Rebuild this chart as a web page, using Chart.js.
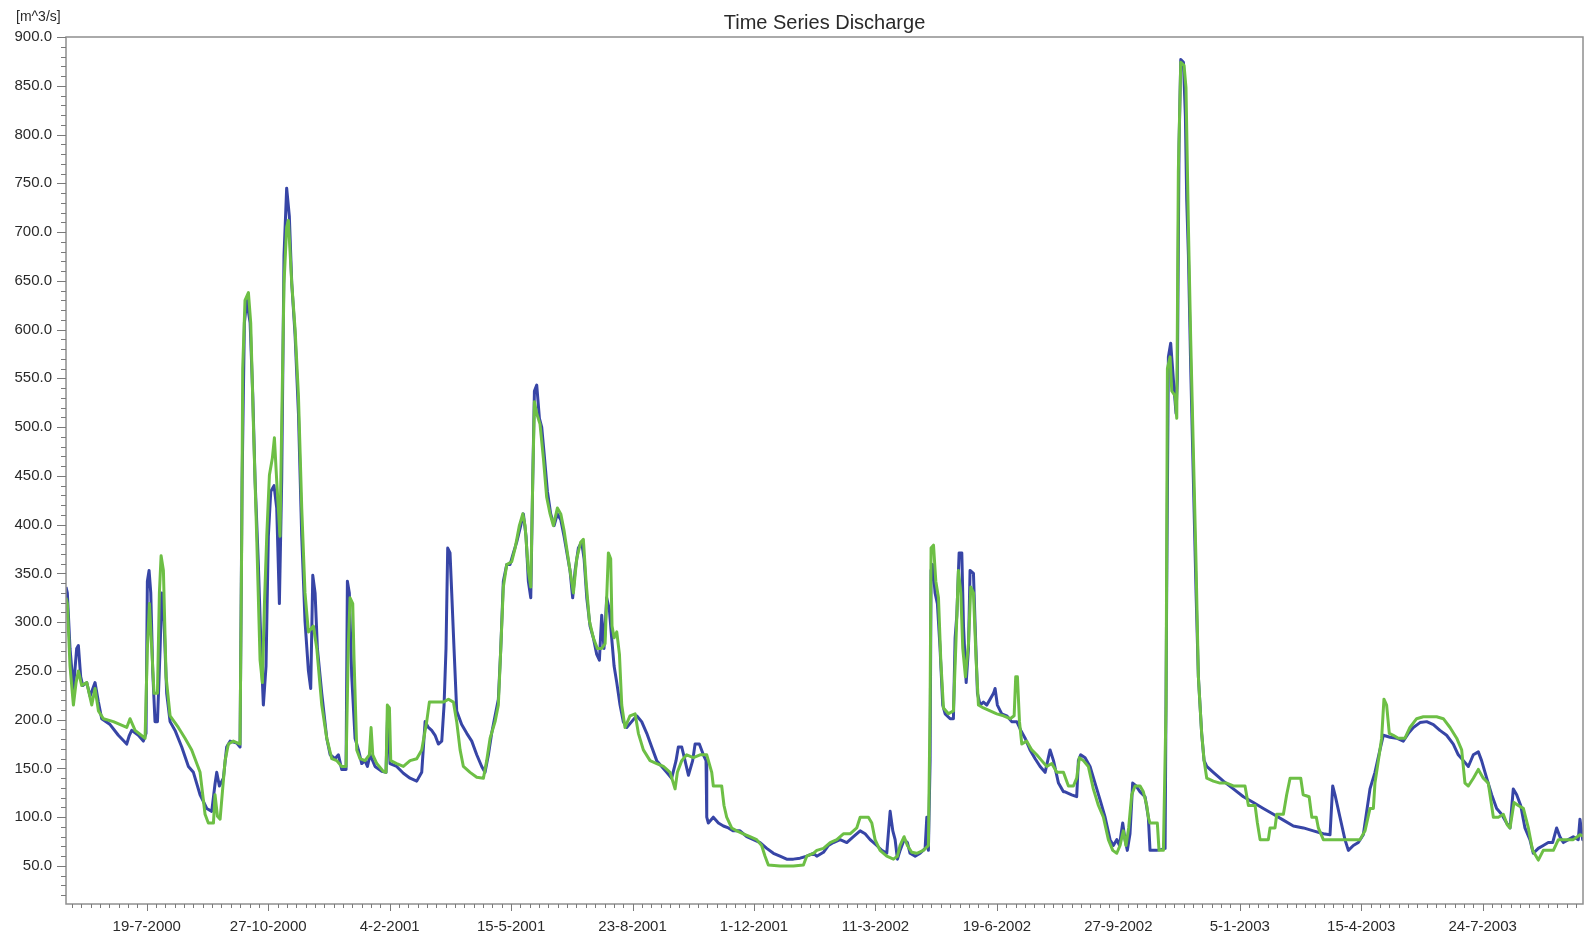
<!DOCTYPE html>
<html>
<head>
<meta charset="utf-8">
<title>Time Series Discharge</title>
<script src="https://cdn.jsdelivr.net/npm/chart.js@4.4.0/dist/chart.umd.min.js"></script>
<style>
  html, body { margin: 0; padding: 0; background: #fff; }
  #wrap { width: 1586px; height: 937px; position: relative; }
</style>
</head>
<body>
<div id="wrap"><canvas id="dischargeChart"></canvas></div>
<script>
// days counted from 13-5-2000
const startDate = Date.UTC(2000, 4, 13);
const chartTitle = 'Time Series Discharge';
const unitLabel = '[m^3/s]';

const tickDays = [67, 167, 267, 367, 467, 567, 667, 767, 867, 967, 1067, 1167];
const tickLabels = ['19-7-2000', '27-10-2000', '4-2-2001', '15-5-2001', '23-8-2001', '1-12-2001',
  '11-3-2002', '19-6-2002', '27-9-2002', '5-1-2003', '15-4-2003', '24-7-2003'];
const yTicks = [50, 100, 150, 200, 250, 300, 350, 400, 450, 500, 550, 600, 650, 700, 750, 800, 850, 900];

// blue series
const obsDay = [
  0.5,1.6,3.8,6.6,9.3,10.7,12.6,14.3,17.6,20.3,24.4,27.2,29.9,36.8,43.6,50.5,52.7,54.6,60.1,64.2,
  66.4,67.5,68.9,70.3,71.9,73.8,75.8,78.0,79.3,81.2,83.4,86.2,90.3,95.8,101.3,105.4,110.9,116.4,120.5,123.2,
  124.6,126.8,130.1,132.8,135.6,141.1,143.8,145.5,147.4,149.3,152.1,154.3,156.2,158.9,161.1,163.0,165.2,167.1,169.1,171.8,
  174.0,176.2,178.1,180.0,182.2,184.4,186.4,189.1,191.9,194.6,197.3,200.1,202.0,
  203.7,205.6,207.5,211.1,215.2,218.0,222.0,224.8,227.5,231.1,232.2,233.8,235.8,238.5,241.3,244.0,246.7,248.7,250.9,255.0,
  260.5,264.0,265.4,267.3,272.8,278.3,283.8,289.3,293.4,296.2,298.9,301.6,304.4,307.1,309.9,311.8,313.4,314.8,316.7,318.1,
  320.0,322.2,326.3,330.5,334.6,338.7,342.8,345.5,348.3,351.0,353.8,356.5,358.5,360.6,363.4,366.1,368.9,371.6,374.9,377.1,
  379.3,381.2,383.2,384.8,386.2,388.1,390.3,392.2,394.1,396.9,399.6,402.4,405.1,407.9,410.6,
  415.5,417.7,419.7,422.4,425.1,427.1,429.3,432.0,434.7,437.5,439.7,441.6,443.5,445.7,447.9,449.8,451.8,454.0,456.7,459.4,
  462.2,466.3,470.4,474.5,478.7,482.8,486.9,491.0,495.1,499.2,502.8,504.7,507.5,510.2,513.0,516.5,518.5,522.0,525.3,527.5,
  528.1,529.4,533.5,537.7,541.8,545.9,550.0,555.5,561.0,566.5,572.0,577.5,583.0,588.4,593.9,599.4,604.9,610.4,615.9,
  618.7,624.2,628.3,632.4,637.9,643.4,648.9,654.4,658.5,662.6,668.1,672.2,676.3,679.1,681.3,683.2,685.1,687.3,690.6,693.3,
  695.5,699.7,703.8,707.9,709.3,710.6,712.0,712.8,714.2,716.1,718.0,720.2,722.4,724.4,728.5,731.2,732.6,734.0,735.9,738.1,
  739.5,741.7,743.6,744.9,747.7,749.1,751.0,753.2,755.9,758.7,761.4,764.2,765.5,767.4,771.0,775.1,779.2,783.4,786.7,790.2,
  794.3,798.5,802.6,806.7,810.8,813.6,817.7,821.8,
  823.1,828.6,832.7,834.1,836.0,839.6,843.7,847.8,851.9,856.1,860.2,862.9,865.7,867.9,870.6,872.5,874.4,876.6,878.8,881.6,
  884.9,889.0,891.7,893.1,898.6,902.7,905.5,906.8,908.2,910.1,912.3,914.5,915.6,917.0,918.4,920.6,922.2,923.3,924.7,926.6,
  928.8,931.0,932.9,935.6,937.6,939.8,945.2,953.5,961.7,970.0,978.2,986.4,994.7,1002.9,1011.1,1019.4,1027.6,
  1035.8,1041.3,1043.5,1045.4,1049.5,1053.6,1056.4,1060.5,1064.6,1068.7,1071.5,1074.2,1078.3,1082.4,1085.2,1090.7,1096.2,1101.6,1105.8,1109.9,
  1115.4,1120.9,1126.4,1131.8,1137.3,1142.8,1146.9,1151.1,1155.2,1159.3,1163.4,1166.1,1170.3,1174.4,1178.5,1182.6,1186.7,1189.5,1192.2,1195.0,
  1198.3,1201.8,1205.9,1208.7,1212.8,1216.9,1221.0,1224.6,1227.9,1230.6,1233.4,1237.5,1241.6,1245.7,1247.1,1249.3,1251.2
];
const obsQ = [
  336,330,273,232,273,276,244,235,238,224,238,218,201,195,184,175,184,189,184,178,
  186,342,353,330,250,198,198,273,330,301,227,198,189,172,152,146,123,109,106,134,
  146,132,140,172,178,176,172,445,607,630,607,532,445,359,273,215,255,388,434,440,
  417,319,445,676,745,716,647,595,514,388,301,250,232,
  348,330,273,227,181,164,160,164,149,149,342,330,244,181,169,155,158,152,164,152,
  147,146,209,155,152,145,140,137,146,198,192,189,184,175,178,215,273,376,371,330,
  273,209,195,186,178,164,152,146,164,186,204,221,273,342,359,359,371,382,399,411,
  388,342,325,445,537,543,509,500,474,434,411,399,411,405,388,
  353,325,353,376,382,365,325,296,284,267,261,307,273,325,313,284,255,238,215,198,
  192,198,204,198,186,172,158,152,146,140,158,172,172,158,143,158,175,175,164,158,
  100,94,100,94,91,89,86,86,80,77,74,68,63,60,57,57,58,60,63,
  60,64,71,74,77,74,80,86,83,77,71,66,63,106,86,77,57,66,77,74,
  63,60,63,68,100,66,158,353,359,330,319,273,215,206,201,201,284,307,371,371,
  296,238,273,353,350,296,227,215,218,215,221,227,232,215,206,204,198,198,189,181,
  169,160,152,146,169,158,135,126,
  126,123,121,158,164,161,152,135,118,100,77,71,77,71,94,77,66,83,135,132,
  126,121,100,66,66,67,68,330,572,586,549,514,549,791,877,874,819,733,676,560,
  445,330,244,186,158,152,146,137,129,121,115,109,103,97,91,89,86,
  83,82,132,123,100,77,66,71,74,82,106,129,146,169,184,182,181,178,186,192,
  197,198,195,189,184,175,164,158,152,164,167,158,140,123,109,103,94,89,129,123,
  112,89,77,63,68,71,74,74,89,80,74,77,80,77,98,77,80
];

// green series
const simDay = [
  0.5,1.6,3.8,6.6,8.8,10.7,13.4,17.6,21.7,24.4,27.2,31.3,39.5,50.5,53.2,57.4,65.6,67.5,69.2,71.1,
  73.0,75.8,77.4,78.8,80.7,82.9,86.2,93.0,98.5,104.0,110.9,115.0,117.7,121.9,123.2,125.2,127.4,129.5,131.5,134.2,
  138.3,143.8,145.2,146.0,147.9,150.7,152.6,154.8,157.5,160.3,162.2,163.9,165.8,168.0,170.4,172.1,174.0,176.7,178.1,180.0,
  182.2,183.6,186.4,189.1,191.9,194.6,197.3,200.1,
  204.2,207.0,211.1,215.2,219.3,223.4,227.5,231.1,233.0,234.4,236.6,237.7,239.9,242.6,246.7,250.3,251.7,253.1,256.4,261.8,
  264.0,265.1,266.8,267.9,272.8,278.3,283.8,289.3,293.4,297.5,299.7,305.7,311.2,315.4,319.5,322.2,325.0,327.7,333.2,338.7,
  344.2,346.9,349.7,353.8,356.5,358.5,360.6,363.4,367.5,370.3,373.8,376.6,378.5,381.2,383.2,384.8,386.2,388.1,390.8,393.6,
  396.3,399.1,401.8,405.1,407.9,410.6,
  415.5,418.3,421.0,424.3,426.5,428.7,431.5,434.7,438.0,441.6,444.4,445.7,447.1,449.0,450.1,451.8,454.0,456.2,458.1,460.8,
  464.9,469.1,471.8,475.9,481.4,486.9,492.4,497.9,502.0,503.9,507.5,511.6,517.1,522.6,528.1,532.2,533.5,537.7,540.4,542.3,
  544.5,548.6,552.8,558.2,563.7,569.2,573.3,576.1,578.8,588.4,599.4,607.7,610.4,615.9,
  618.7,624.2,629.7,635.2,640.6,646.1,651.6,654.4,661.2,664.0,666.7,670.8,676.3,681.8,685.1,687.3,690.6,693.3,696.9,701.0,
  706.5,710.6,712.0,712.8,714.8,716.7,718.9,720.8,723.0,727.1,731.2,733.1,735.3,737.3,738.9,741.1,743.6,745.5,747.7,749.9,
  751.8,755.9,761.4,766.9,772.4,777.9,781.2,782.5,783.9,785.6,787.5,791.6,795.7,799.8,803.9,808.1,812.2,816.3,821.8,
  825.9,830.0,832.7,834.9,838.2,842.3,846.4,850.6,854.7,858.8,862.4,865.7,868.4,871.1,873.3,875.5,878.0,880.8,884.9,887.6,
  890.4,891.7,893.1,899.1,900.5,904.1,906.3,907.4,909.6,911.0,913.7,915.1,916.4,918.4,921.1,922.7,924.7,926.6,928.8,931.0,
  932.9,935.6,937.6,939.8,945.2,950.7,956.2,961.7,965.8,971.3,974.1,979.6,981.5,983.7,990.5,991.9,996.0,997.4,1002.9,1005.6,
  1008.4,1017.2,1019.2,1024.1,1026.3,1030.0,1031.7,
  1035.8,1044.0,1052.2,1060.5,1066.0,1070.1,1074.2,1077.0,1078.3,1081.1,1083.8,1085.7,1087.9,1090.1,1093.4,1097.5,1103.0,1107.1,1112.6,1118.1,
  1123.6,1129.1,1134.6,1140.1,1145.6,1149.7,1152.4,1155.2,1159.3,1163.4,1167.5,1171.6,1175.8,1179.9,1184.0,1187.3,1189.5,1192.8,1196.3,1200.5,
  1204.6,1208.1,1212.8,1216.9,1225.2,1229.3,1234.8,1241.6,1247.1,1251.2
];
const simQ = [
  325,319,255,215,238,250,235,238,215,232,209,201,198,192,201,189,181,273,319,273,
  227,227,330,368,353,244,204,192,181,169,146,103,94,94,123,101,98,129,158,175,
  178,175,388,560,630,638,607,503,388,261,238,319,388,451,468,489,445,388,503,647,
  705,712,647,601,532,417,330,290,
  296,273,215,181,160,158,152,152,278,325,319,261,169,160,158,164,192,164,155,147,
  146,215,212,158,155,152,158,160,169,198,218,218,218,221,218,198,169,152,146,141,
  140,158,181,198,215,273,336,359,362,376,399,411,399,353,336,445,526,514,503,468,
  428,411,399,417,411,394,
  353,330,365,382,385,342,301,284,273,273,278,325,371,365,296,284,290,267,215,192,
  204,206,186,169,158,155,152,146,129,146,158,164,161,164,164,146,132,132,132,112,
  100,89,86,83,80,77,71,60,51,50,50,51,60,63,
  66,68,74,77,83,83,89,100,100,94,77,66,60,57,60,71,80,71,64,63,
  66,71,215,376,379,342,325,261,212,206,209,273,353,330,273,244,278,336,330,261,
  215,212,209,206,204,201,204,244,244,198,175,178,169,164,158,152,155,146,146,
  132,132,140,161,158,152,129,112,100,77,66,63,71,86,71,89,123,132,132,126,
  112,100,94,94,66,66,215,560,572,537,532,509,762,874,871,848,705,589,474,359,
  244,186,158,140,137,135,135,132,132,132,112,112,94,77,77,89,89,103,103,123,
  140,140,123,121,100,100,89,
  77,77,77,77,77,86,109,109,135,158,181,221,215,186,184,181,181,192,201,203,
  203,203,201,192,181,169,135,132,140,149,140,135,100,100,103,92,89,115,112,109,
  89,66,56,66,66,77,77,77,82,80
];

const fontFamily = '"Liberation Sans", Arial, sans-serif';
Chart.defaults.font.family = fontFamily;
Chart.defaults.font.size = 15;
Chart.defaults.color = '#2a2a2a';

// frame, tick marks and the two header texts
const framePlugin = {
  id: 'framePlugin',
  afterDraw(chart) {
    const ctx = chart.ctx;
    const a = chart.chartArea;
    const x = chart.scales.x;
    const y = chart.scales.y;
    ctx.save();
    ctx.strokeStyle = '#8f8f8f';
    ctx.lineWidth = 1.5;
    ctx.strokeRect(a.left, a.top, a.right - a.left, a.bottom - a.top);

    ctx.strokeStyle = '#7a7a7a';
    ctx.lineWidth = 1;
    ctx.beginPath();
    for (let v = 20; v <= 900; v += 10) {
      const py = Math.round(y.getPixelForValue(v)) + 0.5;
      const len = v % 50 === 0 ? 9 : 5;
      ctx.moveTo(a.left - len, py);
      ctx.lineTo(a.left, py);
    }
    const step = 100 / 13;
    for (let d = tickDays[0] - 8 * step; d <= x.max; d += step) {
      if (d < x.min) continue;
      const px = Math.round(x.getPixelForValue(d)) + 0.5;
      const major = tickDays.some(t => Math.abs(t - d) < 0.01);
      ctx.moveTo(px, a.bottom);
      ctx.lineTo(px, a.bottom + (major ? 7 : 4));
    }
    ctx.stroke();

    ctx.fillStyle = '#2a2a2a';
    ctx.textAlign = 'center';
    ctx.textBaseline = 'alphabetic';
    ctx.font = '20px ' + fontFamily;
    ctx.fillText(chartTitle, (a.left + a.right) / 2, 29);
    ctx.textAlign = 'left';
    ctx.font = '14px ' + fontFamily;
    ctx.fillText(unitLabel, 16, 21);
    ctx.restore();
  }
};

const ctx = document.getElementById('dischargeChart').getContext('2d');
const dischargeChart = new Chart(ctx, {
  type: 'line',
  data: {
    datasets: [
      {
        label: 'Simulated',
        data: simDay.map((d, i) => ({ x: d, y: simQ[i] })),
        borderColor: '#6dbf45',
        borderWidth: 3,
        borderJoinStyle: 'round',
        pointRadius: 0,
        tension: 0,
        order: 0
      },
      {
        label: 'Observed',
        data: obsDay.map((d, i) => ({ x: d, y: obsQ[i] })),
        borderColor: '#3745a6',
        borderWidth: 3,
        borderJoinStyle: 'round',
        pointRadius: 0,
        tension: 0,
        order: 1
      }
    ]
  },
  options: {
    responsive: true,
    maintainAspectRatio: false,
    animation: false,
    layout: { padding: { top: 37, right: 3, left: 0, bottom: 0 } },
    plugins: {
      legend: { display: false },
      title: { display: false },
      tooltip: { enabled: false }
    },
    scales: {
      x: {
        type: 'linear',
        min: 0.5,
        max: 1249.6,
        afterBuildTicks: s => { s.ticks = tickDays.map(v => ({ value: v })); },
        afterFit: s => { s.height = 33; },
        grid: { display: false, drawTicks: false },
        border: { display: false },
        ticks: {
          autoSkip: false,
          maxRotation: 0,
          padding: 14,
          callback: (v, i) => tickLabels[i]
        }
      },
      y: {
        type: 'linear',
        min: 11,
        max: 900,
        afterBuildTicks: s => { s.ticks = yTicks.map(v => ({ value: v })); },
        afterFit: s => { s.width = 66; },
        grid: { display: false, drawTicks: false },
        border: { display: false },
        ticks: {
          padding: 14,
          callback: v => v.toFixed(1)
        }
      }
    }
  },
  plugins: [framePlugin]
});
</script>
</body>
</html>
